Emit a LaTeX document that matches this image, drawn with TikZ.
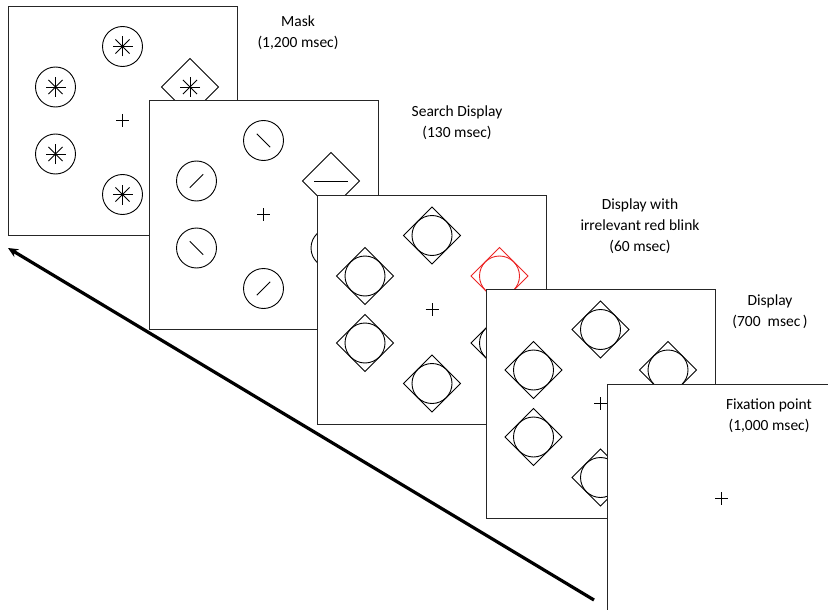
\documentclass[tikz,border=0pt]{standalone}
\usepackage{fontspec}
\setmainfont{Carlito}
\usetikzlibrary{arrows.meta}
\definecolor{blink}{HTML}{EC2424}

\begin{document}
\begin{tikzpicture}[x=1pt,y=-1pt,
 screen/.style={draw=black!85,fill=white,line width=0.95pt,minimum size=229pt,inner sep=0pt,outer sep=0pt},
 caption/.style={align=center,font=\fontsize{15.5}{21}\selectfont},
 item/.style={line width=0.9pt},
 timeline/.style={-{Stealth[length=10pt,width=9pt]},line width=3.2pt},
 pics/cross/.style={code={\draw[line width=0.8pt] (-6.5,0) -- (6.5,0) (0,-6.5) -- (0,6.5);}},
 pics/ring/.style={code={\draw[item] (0,0) circle (20);}},
 pics/rhomb/.style={code={\draw[item] (0,-28.5) -- (28.5,0) -- (0,28.5) -- (-28.5,0) -- cycle;}},
 pics/astr/.style={code={\foreach \a in {0,45,90,135} \draw[item] (\a:10) -- (\a+180:10);}},
 pics/tilt/.style={code={\draw[item] (#1:9.5) -- (#1+180:9.5);}}]
\clip (0,0) rectangle (828,610);

% mask
\node[screen] (mask) at (122.5,120.5) {};
\begin{scope}[shift={(mask.center)}]
 \pic {cross};
 \foreach \x/\y in {0/-74,-67/-33.5,-67/33.5,0/74} {\pic at (\x,\y) {ring}; \pic at (\x,\y) {astr};}
 \pic at (67.5,-33.5) {rhomb};
 \pic at (67.5,-33.5) {astr};
\end{scope}

% search display
\node[screen] (search) at (263.5,214.5) {};
\begin{scope}[shift={(search.center)}]
 \pic {cross};
 \foreach \x/\y/\t in {0/-74/45,-67/-33.5/135,-67/33.5/45,0/74/135} {\pic at (\x,\y) {ring}; \pic at (\x,\y) {tilt=\t};}
 \pic at (67.5,33.5) {ring};
 \pic at (67.5,-33.5) {rhomb};
 \draw[item] (50.5,-33.5) -- (84.5,-33.5);
\end{scope}

% red blink
\node[screen] (blinkscr) at (432,309.5) {};
\begin{scope}[shift={(blinkscr.center)}]
 \pic {cross};
 \foreach \x/\y in {0/-74,-67/-33.5,-67/33.5,0/74,67.5/33.5} {\pic at (\x,\y) {ring}; \pic at (\x,\y) {rhomb};}
 \pic[color=blink] at (67.5,-33.5) {ring};
 \pic[color=blink] at (67.5,-33.5) {rhomb};
\end{scope}

% display
\node[screen] (disp) at (600.5,403.5) {};
\begin{scope}[shift={(disp.center)}]
 \pic {cross};
 \foreach \x/\y in {0/-74,-67/-33.5,-67/33.5,0/74,67.5/-33.5} {\pic at (\x,\y) {ring}; \pic at (\x,\y) {rhomb};}
\end{scope}

% fixation
\node[screen] (fix) at (721.5,498.5) {};
\pic at (fix.center) {cross};

% captions
\node[caption] (masktxt) at (298,32.5) {Mask\\(1,200 msec)};
\node[caption] (searchtxt) at (457,122.5) {Search Display\\(130 msec)};
\node[caption] (blinktxt) at (640,226) {Display with\\irrelevant red blink\\(60 msec)};
\node[caption] (disptxt) at (770,312) {Display\\(700~~msec\,)};
\node[caption] (fixtxt) at (769,415.5) {Fixation point\\(1,000 msec)};

\coordinate (tail) at (594,600);
\coordinate (head) at (8,248);
\draw[timeline] (tail) -- (head);
\end{tikzpicture}
\end{document}
